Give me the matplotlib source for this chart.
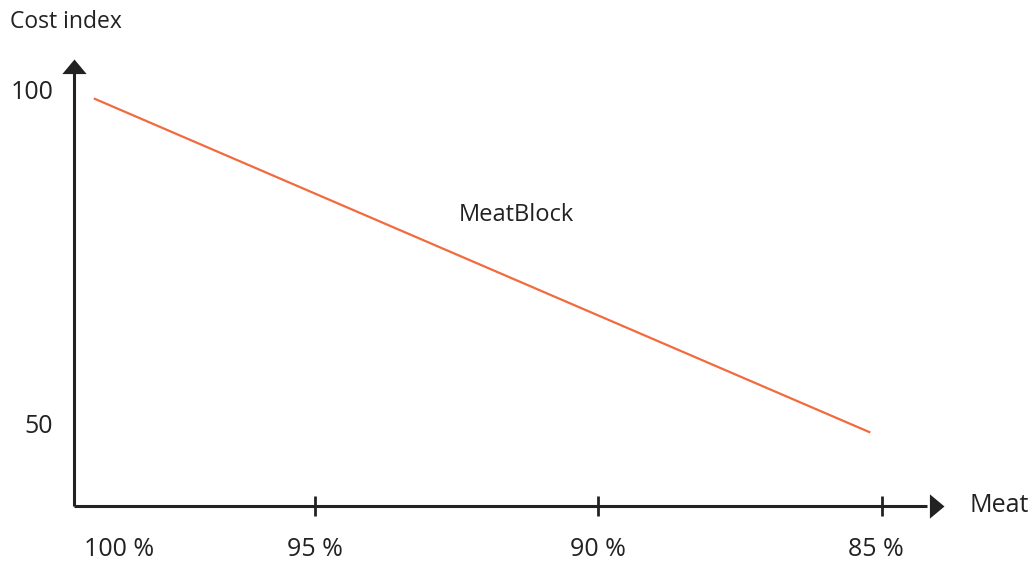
import matplotlib
matplotlib.use("Agg")
import matplotlib.pyplot as plt
from matplotlib.transforms import blended_transform_factory

plt.rcParams['font.family'] = ['Open Sans', 'DejaVu Sans']

# data
meat_pct = [98.9, 85.2]
cost_index = [98.6, 48.6]
tick_marks = [95, 90, 85]
label_pos = [98.45, 95, 90, 85.1]
x_labels = ['100 %', '95 %', '90 %', '85 %']
y_ticks = [100, 50]
series_name = 'MeatBlock'

W, H = 1032, 565
fig = plt.figure(figsize=(W / 100, H / 100), dpi=100)
ax = fig.add_axes([74 / W, 1 - 506 / H, (944 - 74) / W, (506 - 59) / H])

ax.plot(meat_pct, cost_index, color='#F26A3D', lw=1.6, solid_capstyle='butt')
ax.text(91.44, 81.1, series_name, fontsize=17, ha='center', va='center', color='#222222')

ax.set_xlim(99.25, 83.9)
ax.set_ylim(37.6, 104.5)

axis_col = '#222222'
ax.spines[['top', 'right']].set_visible(False)
for side in ['left', 'bottom']:
    ax.spines[side].set_linewidth(2.2)
    ax.spines[side].set_color(axis_col)
    ax.spines[side].set_capstyle('butt')
ax.spines['bottom'].set_bounds(99.25, 84.2)
ax.spines['left'].set_bounds(37.6, 102.5)

# arrow heads, tip anchored at the marker point
head_right = [(0, 0), (-0.6, 0.5), (-0.6, -0.5)]
head_up = [(0, 0), (0.5, -0.6), (-0.5, -0.6)]
ax.plot([1], [0], marker=head_right, ms=21, color=axis_col, mew=0,
        transform=ax.transAxes, clip_on=False)
ax.plot([0], [1], marker=head_up, ms=21, color=axis_col, mew=0,
        transform=ax.transAxes, clip_on=False)

# tick marks crossing the x axis
ax.xaxis.remove_overlapping_locs = False
ax.set_xticks(tick_marks)
ax.set_xticklabels([])
ax.tick_params(axis='x', which='major', direction='inout', length=14, width=2, color=axis_col)
# labels on minor ticks
ax.set_xticks(label_pos, minor=True)
ax.set_xticklabels(x_labels, minor=True, fontsize=18, color='#222222')
ax.tick_params(axis='x', which='minor', length=0, pad=22)

ax.set_yticks(y_ticks)
ax.set_yticklabels([str(v) for v in y_ticks], fontsize=18, color='#222222')
ax.tick_params(axis='y', length=0, pad=15)

fig.text(10 / W, 1 - 22 / H, 'Cost index', fontsize=16.5, ha='left', va='center', color='#222222')
trans = blended_transform_factory(fig.transFigure, ax.transAxes)
ax.text(970 / W, 0, 'Meat', fontsize=18, ha='left', va='center', color='#222222',
        transform=trans, clip_on=False)

fig.savefig('out.png', dpi=100)
